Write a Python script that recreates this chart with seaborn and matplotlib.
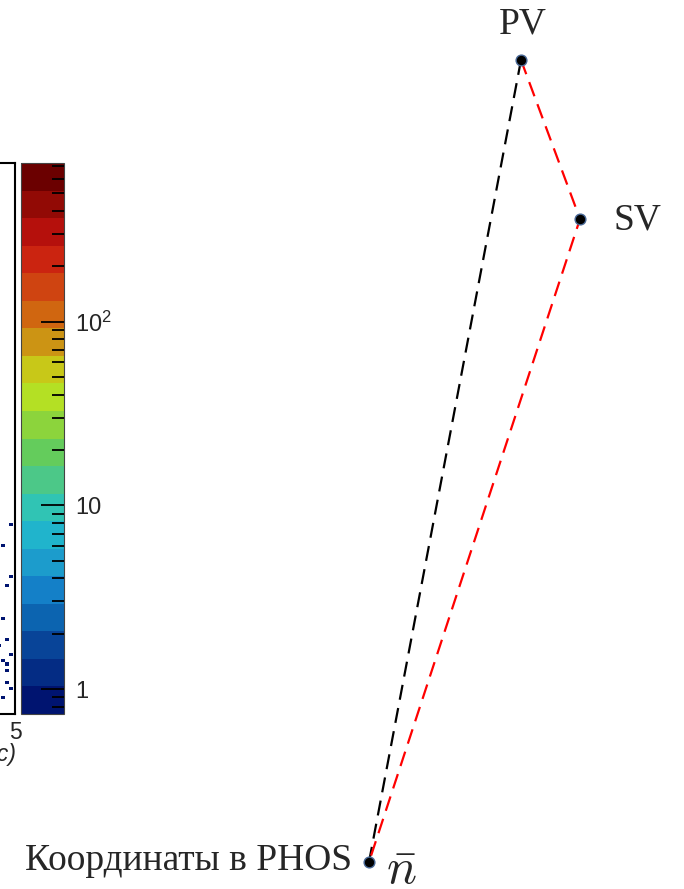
import matplotlib
matplotlib.use("Agg")
import numpy as np
import matplotlib.pyplot as plt
from matplotlib.colors import ListedColormap, LogNorm
from matplotlib.cm import ScalarMappable
from matplotlib.ticker import FixedLocator, FixedFormatter, LogLocator, NullFormatter
import seaborn as sns

# ---- data -------------------------------------------------------------
# entries of the 2D histogram near its upper x edge (x, y pairs)
hist_x = [4.95, 4.85, 4.97, 4.90, 4.85, 4.90, 4.81, 4.97, 4.85, 4.90, 4.90, 4.90, 4.97, 4.85]
hist_y = [0.690, 0.610, 0.497, 0.465, 0.341, 0.265, 0.243, 0.218, 0.189, 0.182, 0.163, 0.116, 0.091, 0.058]

# palette of the z axis (bottom to top)
palette_colors = [
    "#001470", "#042c84", "#084498", "#0c64b0", "#1480c8",
    "#1c9ccc", "#20b4cc", "#30c4b4", "#4cc888", "#64cc5c",
    "#8cd43c", "#b4e024", "#c8c818", "#cc9414", "#d06610",
    "#cf4411", "#cb2410", "#b5100c", "#920a05", "#6b0000",
]
z_min, z_max = 0.731, 731.0
z_ticks = [1, 10, 100]
z_tick_labels = ["1", "10", r"$\mathregular{10^{2}}$"]

# decay sketch: primary vertex, secondary vertex, hit in PHOS
vertex_labels = ["PV", "SV", "Координаты в PHOS"]
vertex_x = [521, 580, 369]
vertex_y = [60, 219, 862]

# ---- style ------------------------------------------------------------
sns.set_style("white")
plt.rcParams["font.family"] = ["Liberation Sans", "DejaVu Sans"]
plt.rcParams["axes.axisbelow"] = False

W, H = 684, 889
fig = plt.figure(figsize=(W / 100, H / 100), dpi=100)
fig.patch.set_facecolor("white")

def frac_x(px):
    return px / W

def frac_h(px):
    return px / H

# histogram frame: x from 0 to 5, right edge visible at the left margin
hist_left, hist_right = -385, 15
frame_top, frame_bottom = 163, 714
ax_h = fig.add_axes([frac_x(hist_left), frac_h(H - frame_bottom),
                     frac_x(hist_right - hist_left), frac_h(frame_bottom - frame_top)])

cmap = ListedColormap(palette_colors)
norm = LogNorm(vmin=z_min, vmax=z_max)

x_edges = np.arange(-0.025, 5.03, 0.05)
y_edges = np.arange(0.0, 2.0001, 0.011)
sns.histplot(x=hist_x, y=hist_y, bins=[x_edges, y_edges], ax=ax_h, cbar=False)
mesh = ax_h.collections[-1]
mesh.set_cmap(cmap)
mesh.norm = norm

ax_h.set_xlim(0, 5)
ax_h.set_ylim(0, 2)
for side in ["top", "right", "bottom", "left"]:
    ax_h.spines[side].set_visible(True)
    ax_h.spines[side].set_color("black")
    ax_h.spines[side].set_linewidth(1.5)
ax_h.set_xticks([1, 2, 3, 4, 5])
ax_h.set_xticklabels(["1", "2", "3", "4", "5"])
ax_h.set_yticks([])
ax_h.tick_params(axis="x", direction="in", length=0, pad=5, labelsize=16.5)
ax_h.set_xlabel("")
ax_h.set_ylabel("")
ax_h.text(1.005, -0.052, "p (GeV/c)", transform=ax_h.transAxes, ha="right", va="top",
          fontsize=16.5, style="italic")

# colour scale
cax = fig.add_axes([frac_x(21), frac_h(H - frame_bottom), frac_x(43), frac_h(frame_bottom - frame_top)])
cb = fig.colorbar(ScalarMappable(norm=norm, cmap=cmap), cax=cax)
cax.set_axisbelow(False)
cb.outline.set_linewidth(0.8)
cb.outline.set_edgecolor("#444444")
cax.yaxis.set_major_locator(FixedLocator(z_ticks))
cax.yaxis.set_major_formatter(FixedFormatter(z_tick_labels))
cax.yaxis.set_minor_locator(LogLocator(base=10, subs=np.arange(2, 10)))
cax.yaxis.set_minor_formatter(NullFormatter())
cax.tick_params(axis="y", which="major", direction="in", length=16.5, width=1.3,
                pad=8, labelsize=17, right=True, left=False, color="black")
cax.tick_params(axis="y", which="minor", direction="in", length=8.5, width=1.3,
                right=True, left=False, color="black")
for t in cax.yaxis.get_ticklines() + cax.yaxis.get_ticklines(minor=True):
    t.set_zorder(10)

# decay sketch
ax_d = fig.add_axes([0, 0, 1, 1], facecolor="none")
ax_d.set_xlim(0, W)
ax_d.set_ylim(H, 0)
ax_d.axis("off")

pv, sv, hit = 0, 1, 2
sns.lineplot(x=[vertex_x[pv], vertex_x[hit]], y=[vertex_y[pv], vertex_y[hit]], sort=False,
             estimator=None, ax=ax_d, color="black", linewidth=1.6, dashes=False,
             linestyle=(0, (6.8, 3.8)))
sns.lineplot(x=[vertex_x[pv], vertex_x[sv], vertex_x[hit]],
             y=[vertex_y[pv], vertex_y[sv], vertex_y[hit]], sort=False,
             estimator=None, ax=ax_d, color="#ff0000", linewidth=1.6, dashes=False,
             linestyle=(0, (6.8, 3.8)))
sns.scatterplot(x=vertex_x, y=vertex_y, ax=ax_d, s=60, color="black",
                edgecolor="#4a6a98", linewidth=1.0, zorder=5)

serif = ["Liberation Serif", "DejaVu Serif"]
ax_d.text(vertex_x[pv] + 2, vertex_y[pv] - 27, vertex_labels[pv], ha="center", va="baseline",
          fontsize=27, family=serif)
ax_d.text(vertex_x[sv] + 34, vertex_y[sv] + 11, vertex_labels[sv], ha="left", va="baseline",
          fontsize=27, family=serif)
ax_d.text(vertex_x[hit] - 17, vertex_y[hit] + 8, vertex_labels[hit], ha="right", va="baseline",
          fontsize=27, family=serif)
ax_d.text(vertex_x[hit] + 17, vertex_y[hit] + 22, r"$\bar{n}$", ha="left", va="baseline",
          fontsize=36, math_fontfamily="cm")

fig.savefig("out.png", dpi=100, facecolor="white")
